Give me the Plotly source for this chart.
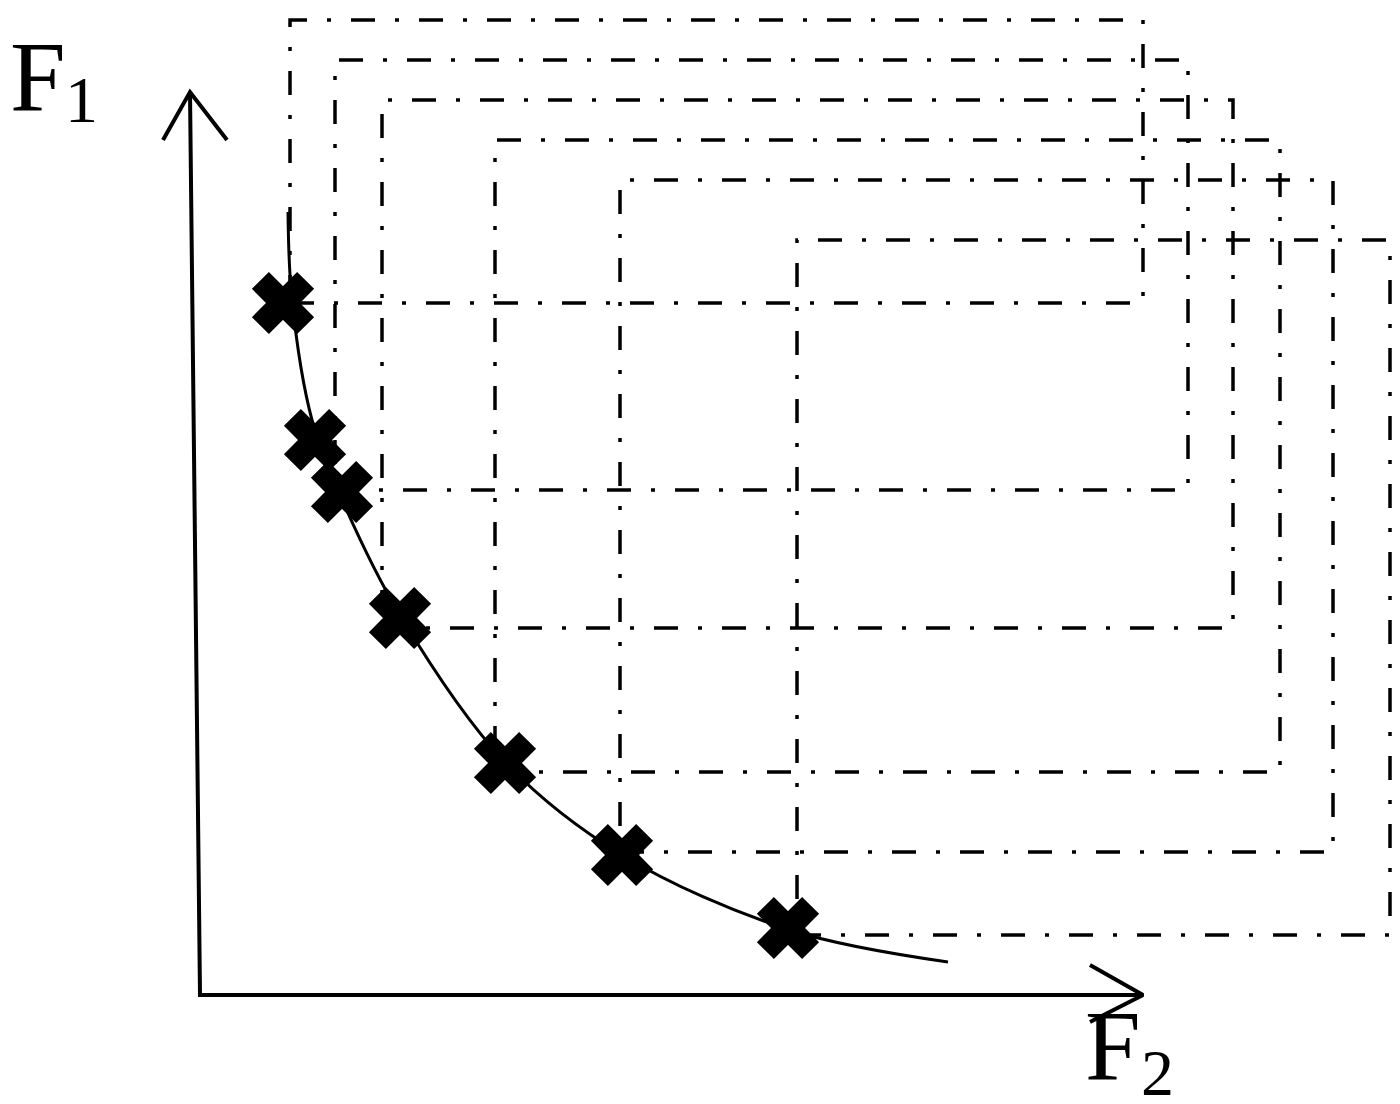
import plotly.graph_objects as go

# Pareto front points (F2 on x, F1 on y)
front_f2 = [0.83, 1.15, 1.42, 2.00, 3.05, 4.22, 5.88]
front_f1 = [6.92, 5.55, 5.03, 3.77, 2.32, 1.40, 0.67]

# smooth front curve
curve_f2 = [0.88, 0.92, 1.12, 1.40, 2.00, 3.05, 4.22, 5.90, 7.48]
curve_f1 = [7.83, 6.95, 5.75, 5.00, 3.80, 2.33, 1.40, 0.65, 0.33]

# dominated boxes: left, right, bottom, top
box_left = [0.90, 1.35, 1.82, 2.95, 4.20, 5.97]
box_right = [9.43, 9.88, 10.33, 10.80, 11.33, 11.90]
box_bottom = [6.92, 5.05, 3.67, 2.23, 1.43, 0.60]
box_top = [9.75, 9.35, 8.95, 8.55, 8.15, 7.55]

# axes with arrow heads
axis_x = [-0.10, 0.0, 9.43]
axis_y = [9.03, 0.0, 0.0]
head_v_x = [-0.37, -0.10, 0.27]
head_v_y = [8.55, 9.03, 8.55]
head_h_x = [8.90, 9.43, 8.90]
head_h_y = [0.30, 0.0, -0.27]

DASH = "24px,20px,4px,20px"
FONT = "Liberation Serif"

fig = go.Figure()

for x0, x1, y0, y1 in zip(box_left, box_right, box_bottom, box_top):
    fig.add_trace(go.Scatter(
        x=[x0, x1, x1, x0, x0], y=[y0, y0, y1, y1, y0],
        mode="lines", line=dict(color="black", width=3.5, dash=DASH),
        hoverinfo="skip"))

for xs, ys in [(axis_x, axis_y), (head_v_x, head_v_y), (head_h_x, head_h_y)]:
    fig.add_trace(go.Scatter(x=xs, y=ys, mode="lines",
                             line=dict(color="black", width=4)))

fig.add_trace(go.Scatter(x=curve_f2, y=curve_f1, mode="lines",
                         line=dict(color="black", width=3, shape="spline")))

fig.add_trace(go.Scatter(x=front_f2, y=front_f1, mode="markers",
                         marker=dict(symbol="x", size=50, color="black",
                                     line=dict(color="black", width=4))))

# axis labels: letter and subscript placed separately
fig.add_annotation(x=-1.92, y=9.19, text="F", showarrow=False,
                   xanchor="left", yanchor="middle",
                   font=dict(family=FONT, size=100, color="black"))
fig.add_annotation(x=-1.19, y=8.96, text="1", showarrow=False,
                   xanchor="center", yanchor="middle",
                   font=dict(family=FONT, size=66, color="black"))
fig.add_annotation(x=9.13, y=-0.50, text="F", showarrow=False,
                   xanchor="center", yanchor="middle",
                   font=dict(family=FONT, size=100, color="black"))
fig.add_annotation(x=9.57, y=-0.77, text="2", showarrow=False,
                   xanchor="center", yanchor="middle",
                   font=dict(family=FONT, size=66, color="black"))

fig.update_xaxes(range=[-1.92, 11.92], visible=False)
fig.update_yaxes(range=[-1.01, 9.87], visible=False)
fig.update_layout(width=1384, height=1088, showlegend=False,
                  margin=dict(l=0, r=0, t=0, b=0),
                  plot_bgcolor="white", paper_bgcolor="white")

fig.write_html("out.html")
